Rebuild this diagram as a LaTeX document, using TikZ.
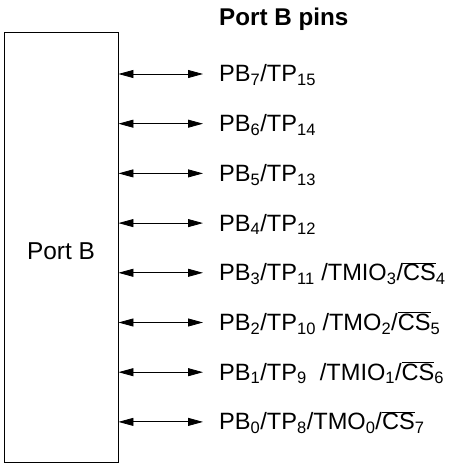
\documentclass[tikz,border=0pt]{standalone}
\usepackage{fontspec}
\setmainfont{Liberation Sans}
\usetikzlibrary{arrows.meta,positioning}

\newcommand{\ncs}{$\overline{\hbox{CS}}$}

\begin{document}
\begin{tikzpicture}[x=1pt, y=1pt,
  portbox/.style={draw, line width=0.9pt, minimum width=114pt, minimum height=430pt, inner sep=0pt},
  pinlbl/.style={anchor=base west, inner ysep=0pt, inner xsep=0pt, text height=20pt, text depth=4pt, font=\fontsize{23.6}{27}\selectfont},
  title/.style={anchor=base west, inner sep=0pt, font=\fontsize{24.2}{28}\selectfont\bfseries},
  arr/.style={{Triangle[length=15pt, width=8pt]}-{Triangle[length=15pt, width=8pt]}, line width=0.8pt}
]
\useasboundingbox (0,0) rectangle (450,463);

\node[portbox] (port) at (61,216) {};
\node[anchor=base, inner sep=0pt, font=\fontsize{24.4}{28}\selectfont] (portlbl) at (61,203) {Port B};

\node[title] (hdr) at (219,437) {Port B pins};

\node[pinlbl] (pb7) at (219,381) {PB\textsubscript{7}/TP\textsubscript{15}};
\node[pinlbl] (pb6) at (219,331.3) {PB\textsubscript{6}/TP\textsubscript{14}};
\node[pinlbl] (pb5) at (219,281.6) {PB\textsubscript{5}/TP\textsubscript{13}};
\node[pinlbl] (pb4) at (219,231.9) {PB\textsubscript{4}/TP\textsubscript{12}};
\node[pinlbl] (pb3) at (219,182.2) {PB\textsubscript{3}/TP\textsubscript{11} /TMIO\textsubscript{3}/\ncs\textsubscript{4}};
\node[pinlbl] (pb2) at (219,132.5) {PB\textsubscript{2}/TP\textsubscript{10} /TMO\textsubscript{2}/\ncs\textsubscript{5}};
\node[pinlbl] (pb1) at (219,82.8) {PB\textsubscript{1}/TP\textsubscript{9}\ \ /TMIO\textsubscript{1}/\ncs\textsubscript{6}};
\node[pinlbl] (pb0) at (219,33.1) {PB\textsubscript{0}/TP\textsubscript{8}/TMO\textsubscript{0}/\ncs\textsubscript{7}};

% bidirectional pin lines
\coordinate (e7) at ([xshift=-16pt]pb7.west);
\coordinate (e6) at ([xshift=-16pt]pb6.west);
\coordinate (e5) at ([xshift=-16pt]pb5.west);
\coordinate (e4) at ([xshift=-16pt]pb4.west);
\coordinate (e3) at ([xshift=-16pt]pb3.west);
\coordinate (e2) at ([xshift=-16pt]pb2.west);
\coordinate (e1) at ([xshift=-16pt]pb1.west);
\coordinate (e0) at ([xshift=-16pt]pb0.west);

\draw[arr] (port.east |- e7) -- (e7);
\draw[arr] (port.east |- e6) -- (e6);
\draw[arr] (port.east |- e5) -- (e5);
\draw[arr] (port.east |- e4) -- (e4);
\draw[arr] (port.east |- e3) -- (e3);
\draw[arr] (port.east |- e2) -- (e2);
\draw[arr] (port.east |- e1) -- (e1);
\draw[arr] (port.east |- e0) -- (e0);
\end{tikzpicture}
\end{document}
